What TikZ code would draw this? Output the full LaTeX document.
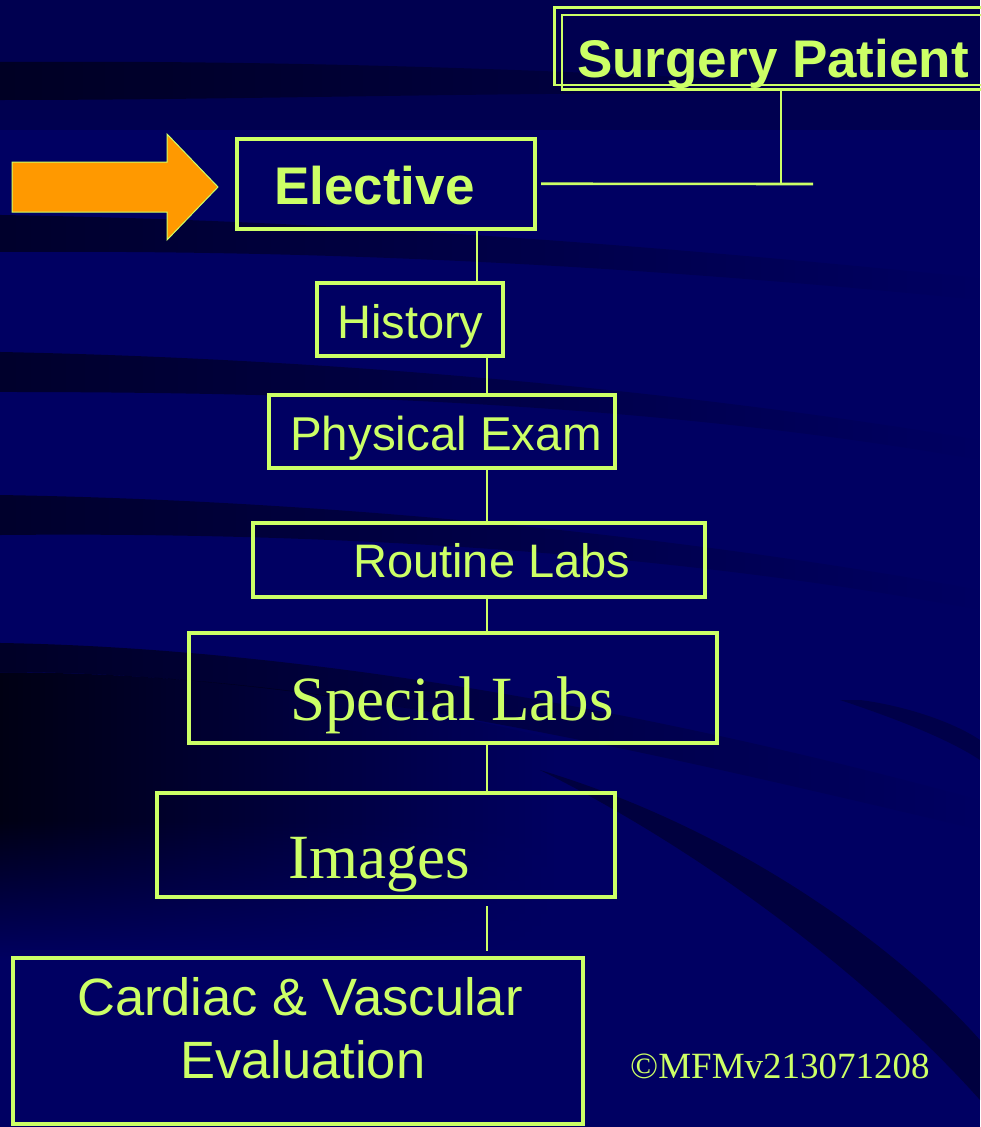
\documentclass[tikz,border=0pt]{standalone}
\usepackage{fontspec}
\setmainfont{Liberation Serif}
\newfontfamily\arialfont{Liberation Sans}
\usetikzlibrary{fadings}
\definecolor{bg}{RGB}{0,0,98}
\definecolor{lime}{RGB}{204,255,102}
\definecolor{orng}{RGB}{255,153,0}
\begin{document}
\begin{tikzpicture}[x=1pt,y=-1pt,
  box/.style={draw=lime, line width=4pt, inner sep=0pt, rectangle},
  conn/.style={draw=lime, line width=2.6pt},
  sanslab/.style={text=lime, inner sep=0pt, anchor=base west, font=\arialfont\fontsize{47}{56}\selectfont},
  boldlab/.style={text=lime, inner sep=0pt, anchor=base west, font=\arialfont\bfseries\fontsize{53}{60}\selectfont},
  seriflab/.style={text=lime, inner sep=0pt, anchor=base west, font=\fontsize{63}{70}\selectfont},
  band/.style={fill=black, opacity=0.55, path fading=east}]
\useasboundingbox (0,0) rectangle (980,1127);
% background
\fill[bg] (0,0) rectangle (980,1127);
\fill[black, opacity=0.18] (0,0) rectangle (980,130);
\fill[band] (0,62) .. controls (300,60) and (600,70) .. (950,92) -- (950,96) .. controls (600,88) and (300,100) .. (0,100) -- cycle;
\fill[band] (0,215) .. controls (300,220) and (600,240) .. (980,278) -- (980,300) .. controls (600,262) and (300,250) .. (0,252) -- cycle;
\fill[band] (0,352) .. controls (300,358) and (650,385) .. (980,440) -- (980,460) .. controls (650,402) and (300,392) .. (0,392) -- cycle;
\fill[band] (0,495) .. controls (300,500) and (650,530) .. (980,590) -- (980,610) .. controls (650,548) and (300,532) .. (0,535) -- cycle;
\fill[band, opacity=0.6] (0,643) .. controls (300,648) and (650,710) .. (980,800) -- (980,830) .. controls (600,740) and (300,672) .. (0,672) -- cycle;
\fill[black, opacity=0.8, path fading=east] (0,672) .. controls (200,672) and (400,700) .. (560,740) -- (560,1127) -- (0,1127) -- cycle;
\fill[bg, path fading=north] (0,820) rectangle (600,960);
\fill[bg] (0,960) rectangle (600,1127);
\fill[black, opacity=0.35] (540,770) .. controls (740,830) and (900,950) .. (980,1040) -- (980,1100) .. controls (900,1010) and (740,870) .. (540,770) -- cycle;
\fill[black, opacity=0.25] (840,700) .. controls (900,720) and (950,740) .. (980,760) -- (980,740) .. controls (950,720) and (900,705) .. (860,700) -- cycle;

% boxes
\node[box, line width=2.7pt, minimum width=438pt, minimum height=74.5pt] (surgery) at (781,52.25) {};
\draw[lime, line width=2.7pt] ([shift={(-6,-6)}]surgery.south west) rectangle ([shift={(-6,-6)}]surgery.north east);
\node[box, minimum width=298.5pt, minimum height=89.5pt] (elective) at (385.75,183.75) {};
\node[box, minimum width=186pt, minimum height=73pt] (history) at (410,319.5) {};
\node[box, minimum width=346pt, minimum height=73pt] (physical) at (442,431.5) {};
\node[box, minimum width=452pt, minimum height=74pt] (routine) at (479,560) {};
\node[box, minimum width=528pt, minimum height=110pt] (special) at (453,688) {};
\node[box, minimum width=458pt, minimum height=104pt] (images) at (386,845) {};
\node[box, minimum width=570pt, minimum height=166pt] (cardiac) at (298,1041) {};

% texts
\node[boldlab] (tsurgery) at (577,77) {Surgery Patient};
\node[boldlab] (telective) at (274,204) {Elective};
\node[sanslab] (thistory) at (337,338) {History};
\node[sanslab, font=\arialfont\fontsize{47.5}{56}\selectfont] (tphysical) at (290,450) {Physical Exam};
\node[sanslab] (troutine) at (353,577) {Routine Labs};
\node[seriflab] (tspecial) at (290,720) {Special Labs};
\node[seriflab] (timages) at (288,878) {Images};
\node[sanslab, font=\arialfont\fontsize{52.5}{60}\selectfont] (tcard1) at (77,1015) {Cardiac \& Vascular};
\node[sanslab, font=\arialfont\fontsize{52.5}{60}\selectfont] (tcard2) at (180,1078) {Evaluation};
\node[text=lime, inner sep=0pt, anchor=base west, font=\fontsize{37}{44}\selectfont] (copy) at (630,1078) {©MFMv213071208};

% arrow
\fill[orng, draw=lime, line width=1pt] (12,162) -- (167,162) -- (167,134) -- (218,187) -- (167,240) -- (167,212) -- (12,212) -- cycle;

% connectors
\coordinate (hend) at (813,184);
\coordinate (c1) at (477,0);
\coordinate (c2) at (487,0);
\draw[conn] ([xshift=4pt]elective.east) -- (hend);
\draw[conn] (surgery.south) -- (surgery.south |- hend);
\draw[conn] (elective.south -| c1) -- (history.north -| c1);
\draw[conn] (history.south -| c2) -- (physical.north -| c2);
\draw[conn] (physical.south -| c2) -- (routine.north -| c2);
\draw[conn] (routine.south -| c2) -- (special.north -| c2);
\draw[conn] (special.south -| c2) -- (images.north -| c2);
\draw[conn, shorten <=7pt, shorten >=5pt] (images.south -| c2) -- (cardiac.north -| c2);
\end{tikzpicture}
\end{document}
